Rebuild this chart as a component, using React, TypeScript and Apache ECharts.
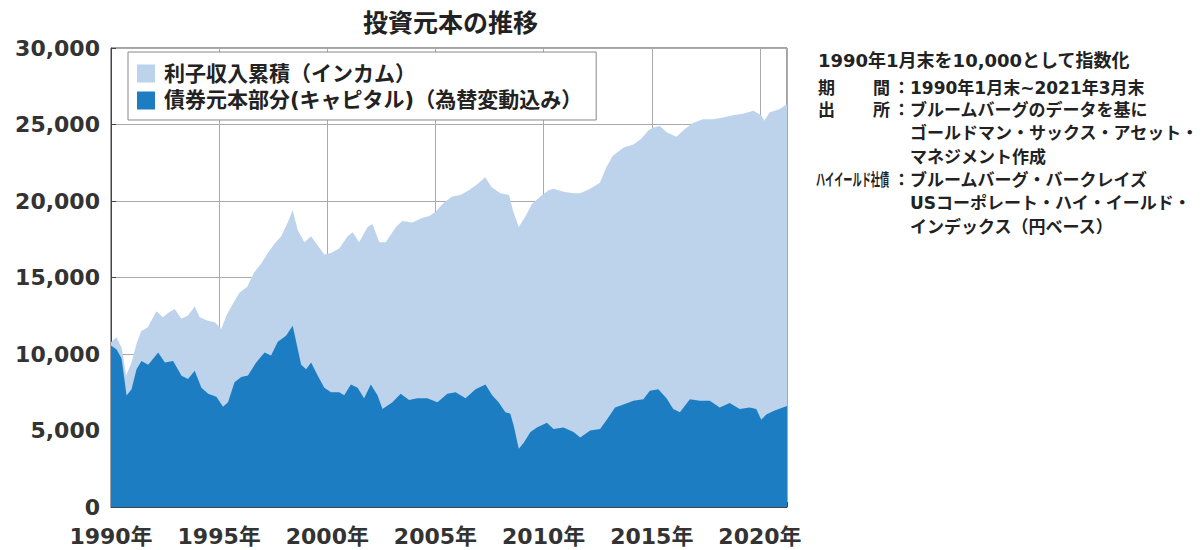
import React, { useEffect, useRef } from 'react';
import * as echarts from 'echarts';

const FONT = '"DejaVu Sans", "Noto Sans CJK JP", sans-serif';
const CJK = '"DejaVu Sans", "Noto Sans CJK JP", sans-serif';

const titleText = '投資元本の推移';
const incomeName = '利子収入累積（インカム）';
const capitalName = '債券元本部分(キャピタル)（為替変動込み）';

const xTicks = [1990, 1995, 2000, 2005, 2010, 2015, 2020];
const yTicks = [0, 5000, 10000, 15000, 20000, 25000, 30000];

// Total (capital + accumulated income), index
const totalDates = [
  1990.0, 1990.25, 1990.5, 1990.7, 1990.95, 1991.2, 1991.4, 1991.7, 1992.1, 1992.4,
  1992.65, 1992.95, 1993.25, 1993.55, 1993.87, 1994.1, 1994.48, 1994.8, 1995.1, 1995.33,
  1995.64, 1995.94, 1996.3, 1996.6, 1996.94, 1997.25, 1997.56, 1997.87, 1998.17, 1998.4,
  1998.63, 1998.94, 1999.25, 1999.55, 1999.86, 2000.17, 2000.55, 2000.94, 2001.17, 2001.47,
  2001.86, 2002.09, 2002.4, 2002.7, 2003.17, 2003.47, 2003.93, 2004.4, 2004.7, 2005.0,
  2005.4, 2005.77, 2006.16, 2006.54, 2006.93, 2007.3, 2007.6, 2008.0, 2008.4, 2008.6,
  2008.85, 2009.16, 2009.46, 2009.85, 2010.23, 2010.46, 2010.92, 2011.38, 2011.69, 2012.15,
  2012.6, 2012.9, 2013.2, 2013.7, 2014.15, 2014.5, 2014.84, 2015.07, 2015.38, 2015.68,
  2016.14, 2016.53, 2016.9, 2017.37, 2017.83, 2018.3, 2018.76, 2019.2, 2019.7, 2020.06,
  2020.2, 2020.45, 2020.9, 2021.15, 2021.25,
];
const totalValues = [
  10760, 11090, 10370, 8580, 9450, 10760, 11500, 11750, 12800, 12400,
  12700, 12940, 12300, 12500, 13100, 12400, 12180, 12070, 11640, 12500,
  13300, 14000, 14400, 15300, 15900, 16600, 17200, 17700, 18600, 19400,
  18100, 17300, 17700, 17100, 16500, 16600, 16900, 17700, 17950, 17300,
  18300, 18500, 17300, 17300, 18300, 18700, 18600, 18900, 19000, 19300,
  19900, 20300, 20400, 20700, 21100, 21550, 20900, 20500, 20400, 19300,
  18300, 19000, 19800, 20300, 20700, 20800, 20600, 20500, 20500, 20800,
  21200, 22200, 22960, 23500, 23700, 24050, 24600, 24800, 24900, 24500,
  24200, 24700, 25100, 25350, 25350, 25450, 25600, 25700, 25900, 25600,
  25250, 25800, 26000, 26250, 26300,
];

// Capital part (bond principal incl. FX)
const capitalDates = [
  1990.0, 1990.26, 1990.49, 1990.72, 1990.95, 1991.18, 1991.41, 1991.72, 1992.18, 1992.49,
  1992.87, 1993.26, 1993.56, 1993.87, 1994.18, 1994.49, 1994.87, 1995.18, 1995.41, 1995.71,
  1996.02, 1996.33, 1996.71, 1997.1, 1997.4, 1997.71, 1998.09, 1998.4, 1998.56, 1998.79,
  1999.02, 1999.25, 1999.56, 1999.86, 2000.17, 2000.55, 2000.78, 2001.09, 2001.4, 2001.7,
  2002.01, 2002.32, 2002.55, 2003.01, 2003.39, 2003.78, 2004.16, 2004.62, 2005.09, 2005.55,
  2005.93, 2006.39, 2006.85, 2007.31, 2007.62, 2007.92, 2008.23, 2008.46, 2008.62, 2008.85,
  2009.08, 2009.39, 2009.69, 2010.15, 2010.46, 2010.92, 2011.38, 2011.69, 2012.15, 2012.61,
  2012.92, 2013.3, 2013.69, 2014.15, 2014.61, 2014.91, 2015.3, 2015.68, 2015.99, 2016.3,
  2016.76, 2017.22, 2017.68, 2018.14, 2018.6, 2019.06, 2019.52, 2019.83, 2020.06, 2020.29,
  2020.68, 2021.06, 2021.25,
];
const capitalValues = [
  10550, 10300, 9700, 7280, 7700, 9000, 9550, 9300, 10100, 9450,
  9550, 8580, 8360, 8900, 7800, 7400, 7200, 6550, 6850, 8150,
  8500, 8600, 9450, 10100, 9900, 10800, 11200, 11850, 10800, 9300,
  9000, 9450, 8580, 7800, 7500, 7500, 7300, 8000, 7800, 7100,
  8000, 7300, 6400, 6850, 7400, 7000, 7100, 7100, 6850, 7400,
  7500, 7100, 7700, 8000, 7300, 6850, 6200, 6100, 5300, 3800,
  4200, 4900, 5200, 5500, 5100, 5200, 4900, 4550, 5000, 5100,
  5700, 6500, 6700, 6950, 7050, 7600, 7700, 7100, 6400, 6200,
  7050, 6950, 6950, 6500, 6800, 6400, 6500, 6400, 5700, 6050,
  6300, 6500, 6600,
];

const noteLines = [
  '1990年1月末を10,000として指数化',
  '：1990年1月末~2021年3月末',
  '：ブルームバーグのデータを基に',
  'ゴールドマン・サックス・アセット・',
  'マネジメント作成',
  '：ブルームバーグ・バークレイズ',
  'USコーポレート・ハイ・イールド・',
  'インデックス（円ベース）',
];

const LIGHT = '#BCD3EB';
const DARK = '#1C7DC2';
const TXT = '#222';

function txt(text: string, x: number, y: number, size = 17, extra: any = {}) {
  return {
    type: 'text',
    x,
    y,
    ...extra,
    style: {
      text,
      fill: TXT,
      font: `bold ${size}px ${CJK}`,
      verticalAlign: 'middle',
    },
  };
}

export default function App() {
  const ref = useRef<HTMLDivElement>(null);
  useEffect(() => {
    const chart = echarts.init(ref.current!, null, { renderer: 'svg' });
    const option: any = {
      animation: false,
      backgroundColor: '#fff',
      title: {
        text: titleText,
        left: 363,
        top: 11,
        padding: 0,
        textStyle: { fontSize: 25, fontWeight: 'bold', color: TXT, fontFamily: CJK },
      },
      legend: {
        orient: 'vertical',
        left: 128,
        top: 52,
        padding: [11, 14, 9, 9],
        itemGap: 6,
        itemWidth: 18,
        itemHeight: 18,
        backgroundColor: '#fff',
        borderColor: '#888',
        borderWidth: 1,
        borderRadius: 0,
        textStyle: { fontSize: 21, fontWeight: 'bold', color: TXT, fontFamily: CJK, padding: [0, 0, 0, 4] },
        data: [
          { name: incomeName, icon: 'rect' },
          { name: capitalName, icon: 'rect' },
        ],
      },
      grid: {
        left: 111,
        right: 416,
        top: 48,
        bottom: 43,
        show: true,
        borderColor: '#444',
        borderWidth: 1,
      },
      xAxis: {
        type: 'value',
        min: 1990,
        max: 2021.25,
        interval: 5,
        axisLine: { show: true, lineStyle: { color: '#444', width: 1 } },
        axisTick: { show: true, inside: true, length: 5, lineStyle: { color: '#444' } },
        splitLine: { show: true, lineStyle: { color: '#aaa', width: 1 } },
        axisLabel: {
          margin: 18,
          fontSize: 22,
          fontWeight: 'bold',
          color: '#333',
          fontFamily: FONT,
          formatter: (v: number) => (xTicks.indexOf(v) >= 0 ? `${v}年` : ''),
        },
      },
      yAxis: {
        type: 'value',
        min: 0,
        max: 30000,
        interval: 5000,
        axisLine: { show: true, lineStyle: { color: '#444', width: 1 } },
        axisTick: { show: true, inside: true, length: 5, lineStyle: { color: '#444' } },
        splitLine: { show: true, lineStyle: { color: '#aaa', width: 1 } },
        axisLabel: {
          margin: 11,
          fontSize: 22,
          fontWeight: 'bold',
          color: '#333',
          fontFamily: FONT,
          formatter: (v: number) => (yTicks.indexOf(v) >= 0 ? v.toLocaleString('en-US') : ''),
        },
      },
      series: [
        {
          name: incomeName,
          type: 'line',
          color: LIGHT,
          symbol: 'none',
          showSymbol: false,
          lineStyle: { width: 0, color: LIGHT },
          itemStyle: { color: LIGHT },
          areaStyle: { color: LIGHT, opacity: 1 },
          data: totalDates.map((d, i) => [d, totalValues[i]]),
        },
        {
          name: capitalName,
          type: 'line',
          color: DARK,
          symbol: 'none',
          showSymbol: false,
          lineStyle: { width: 0, color: DARK },
          itemStyle: { color: DARK },
          areaStyle: { color: DARK, opacity: 1 },
          data: capitalDates.map((d, i) => [d, capitalValues[i]]),
        },
      ],
      graphic: [
        txt(noteLines[0], 818, 60, 18),
        txt('期', 818, 88),
        txt('間', 873, 88),
        txt(noteLines[1], 893, 88),
        txt('出', 818, 110),
        txt('所', 873, 110),
        txt(noteLines[2], 893, 110),
        txt(noteLines[3], 910, 133),
        txt(noteLines[4], 910, 157),
        txt('ハイイールド社債', 816, 180, 17, { scaleX: 0.54 }),
        txt(noteLines[5], 893, 180),
        txt(noteLines[6], 910, 203),
        txt(noteLines[7], 910, 227),
      ],
    };
    chart.setOption(option);
    return () => chart.dispose();
  }, []);
  return (
    <div
      ref={ref}
      style={{ position: 'fixed', left: 0, top: 0, width: 1203, height: 550, background: '#fff' }}
    />
  );
}
